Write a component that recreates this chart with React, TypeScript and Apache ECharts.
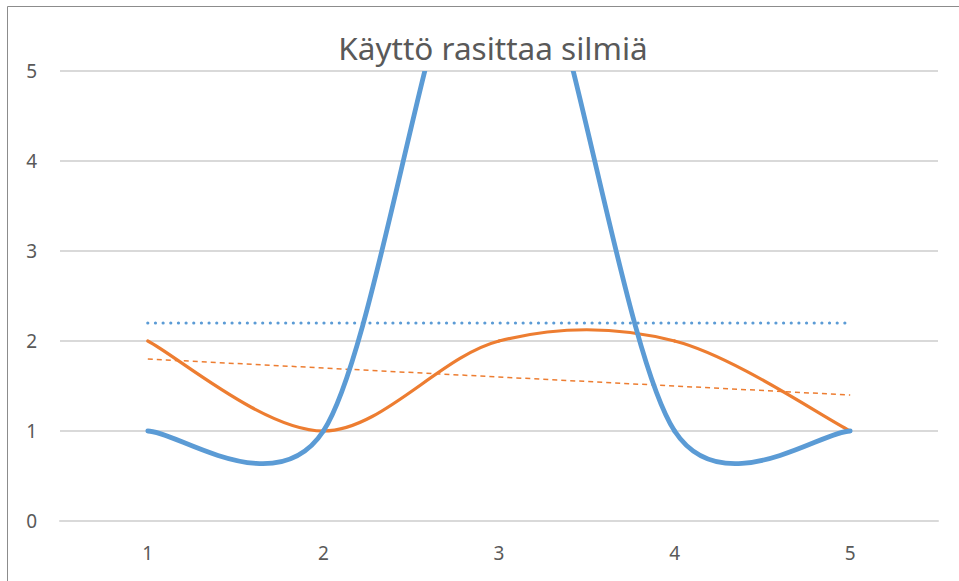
import React, { useEffect, useRef } from "react";
import * as echarts from "echarts";

const categories = ["1", "2", "3", "4", "5"];
const blueValues = [1, 1, 7, 1, 1];
const orangeValues = [2, 1, 2, 2, 1];
const blueAverage = 2.2;
const orangeTrendStart = 1.8;
const orangeTrendEnd = 1.4;
const yTicks = [0, 1, 2, 3, 4, 5];
const title = "Käyttö rasittaa silmiä";

const BLUE = "#5B9BD5";
const ORANGE = "#ED7D31";

function smoothSeries(values: number[], color: string, width: number, z: number) {
  const n = values.length;
  return {
    type: "custom",
    clip: true,
    z,
    silent: true,
    data: values.map((v, i) => [i, v]),
    encode: { x: 0, y: 1 },
    renderItem: (params: any, api: any) => {
      const i = params.dataIndex;
      if (i >= n - 1) return null;
      const pt = (k: number) => api.coord([k, values[k]]);
      const p1 = pt(i);
      const p2 = pt(i + 1);
      const p0 = i > 0 ? pt(i - 1) : p1;
      const p3 = i + 2 < n ? pt(i + 2) : p2;
      const dist = (a: number[], b: number[]) => Math.hypot(a[0] - b[0], a[1] - b[1]);
      const d12 = dist(p1, p2);
      const d02 = dist(p0, p2);
      const d13 = dist(p1, p3);
      let f0 = 1 / 6;
      let f1 = 1 / 6;
      if (d02 / 6 > d12 / 2 && d02 > 0) f0 = d12 / 2 / d02;
      if (d13 / 6 > d12 / 2 && d13 > 0) f1 = d12 / 2 / d13;
      const cp1 = [p1[0] + (p2[0] - p0[0]) * f0, p1[1] + (p2[1] - p0[1]) * f0];
      const cp2 = [p2[0] - (p3[0] - p1[0]) * f1, p2[1] - (p3[1] - p1[1]) * f1];
      return {
        type: "bezierCurve",
        shape: {
          x1: p1[0], y1: p1[1],
          cpx1: cp1[0], cpy1: cp1[1],
          cpx2: cp2[0], cpy2: cp2[1],
          x2: p2[0], y2: p2[1],
        },
        style: { stroke: color, lineWidth: width, fill: "none", lineCap: "round" },
      };
    },
  };
}

export default function App() {
  const ref = useRef<HTMLDivElement>(null);
  useEffect(() => {
    if (!ref.current) return;
    const chart = echarts.init(ref.current, undefined, { renderer: "svg" });
    const last = categories.length - 1;
    const avgData = categories.map((_, i) => (i === 0 || i === last ? blueAverage : "-"));
    const trendData = categories.map((_, i) =>
      i === 0 ? orangeTrendStart : i === last ? orangeTrendEnd : "-"
    );
    chart.setOption({
      animation: false,
      backgroundColor: "#ffffff",
      title: {
        text: title,
        left: 488,
        textAlign: "center",
        top: 26,
        textStyle: {
          fontFamily: "Noto Sans",
          fontSize: 31.5,
          fontWeight: "normal",
          color: "#595959",
        },
      },
      graphic: [
        {
          type: "rect",
          shape: { x: 7.5, y: 6.5, width: 1000, height: 1000 },
          style: { fill: "none", stroke: "#8c8c8c", lineWidth: 1 },
          silent: true,
        },
      ],
      grid: { left: 60, right: 21, top: 71, bottom: 60 },
      xAxis: {
        type: "category",
        data: categories,
        boundaryGap: true,
        axisLine: { show: true, lineStyle: { color: "#d9d9d9", width: 2 } },
        axisTick: { show: false },
        axisLabel: { color: "#595959", fontSize: 19, fontFamily: "Noto Sans", margin: 22 },
        splitLine: { show: false },
      },
      yAxis: {
        type: "value",
        min: yTicks[0],
        max: yTicks[yTicks.length - 1],
        interval: 1,
        axisLine: { show: false },
        axisTick: { show: false },
        axisLabel: { color: "#595959", fontSize: 19, fontFamily: "Noto Sans", margin: 23 },
        splitLine: { lineStyle: { color: "#d9d9d9", width: 2 } },
      },
      series: [
        {
          type: "line",
          data: avgData,
          connectNulls: true,
          symbol: "none",
          z: 2,
          lineStyle: { color: BLUE, width: 3.2, type: [0.01, 7.65], cap: "round" },
        },
        {
          type: "line",
          data: trendData,
          connectNulls: true,
          symbol: "none",
          z: 2,
          lineStyle: { color: ORANGE, width: 1.5, type: [5, 4] },
        },
        smoothSeries(orangeValues, ORANGE, 3.2, 3),
        smoothSeries(blueValues, BLUE, 4.8, 4),
      ],
    });
    return () => chart.dispose();
  }, []);
  return (
    <div
      ref={ref}
      style={{ position: "fixed", left: 0, top: 0, width: 959, height: 581 }}
    />
  );
}
